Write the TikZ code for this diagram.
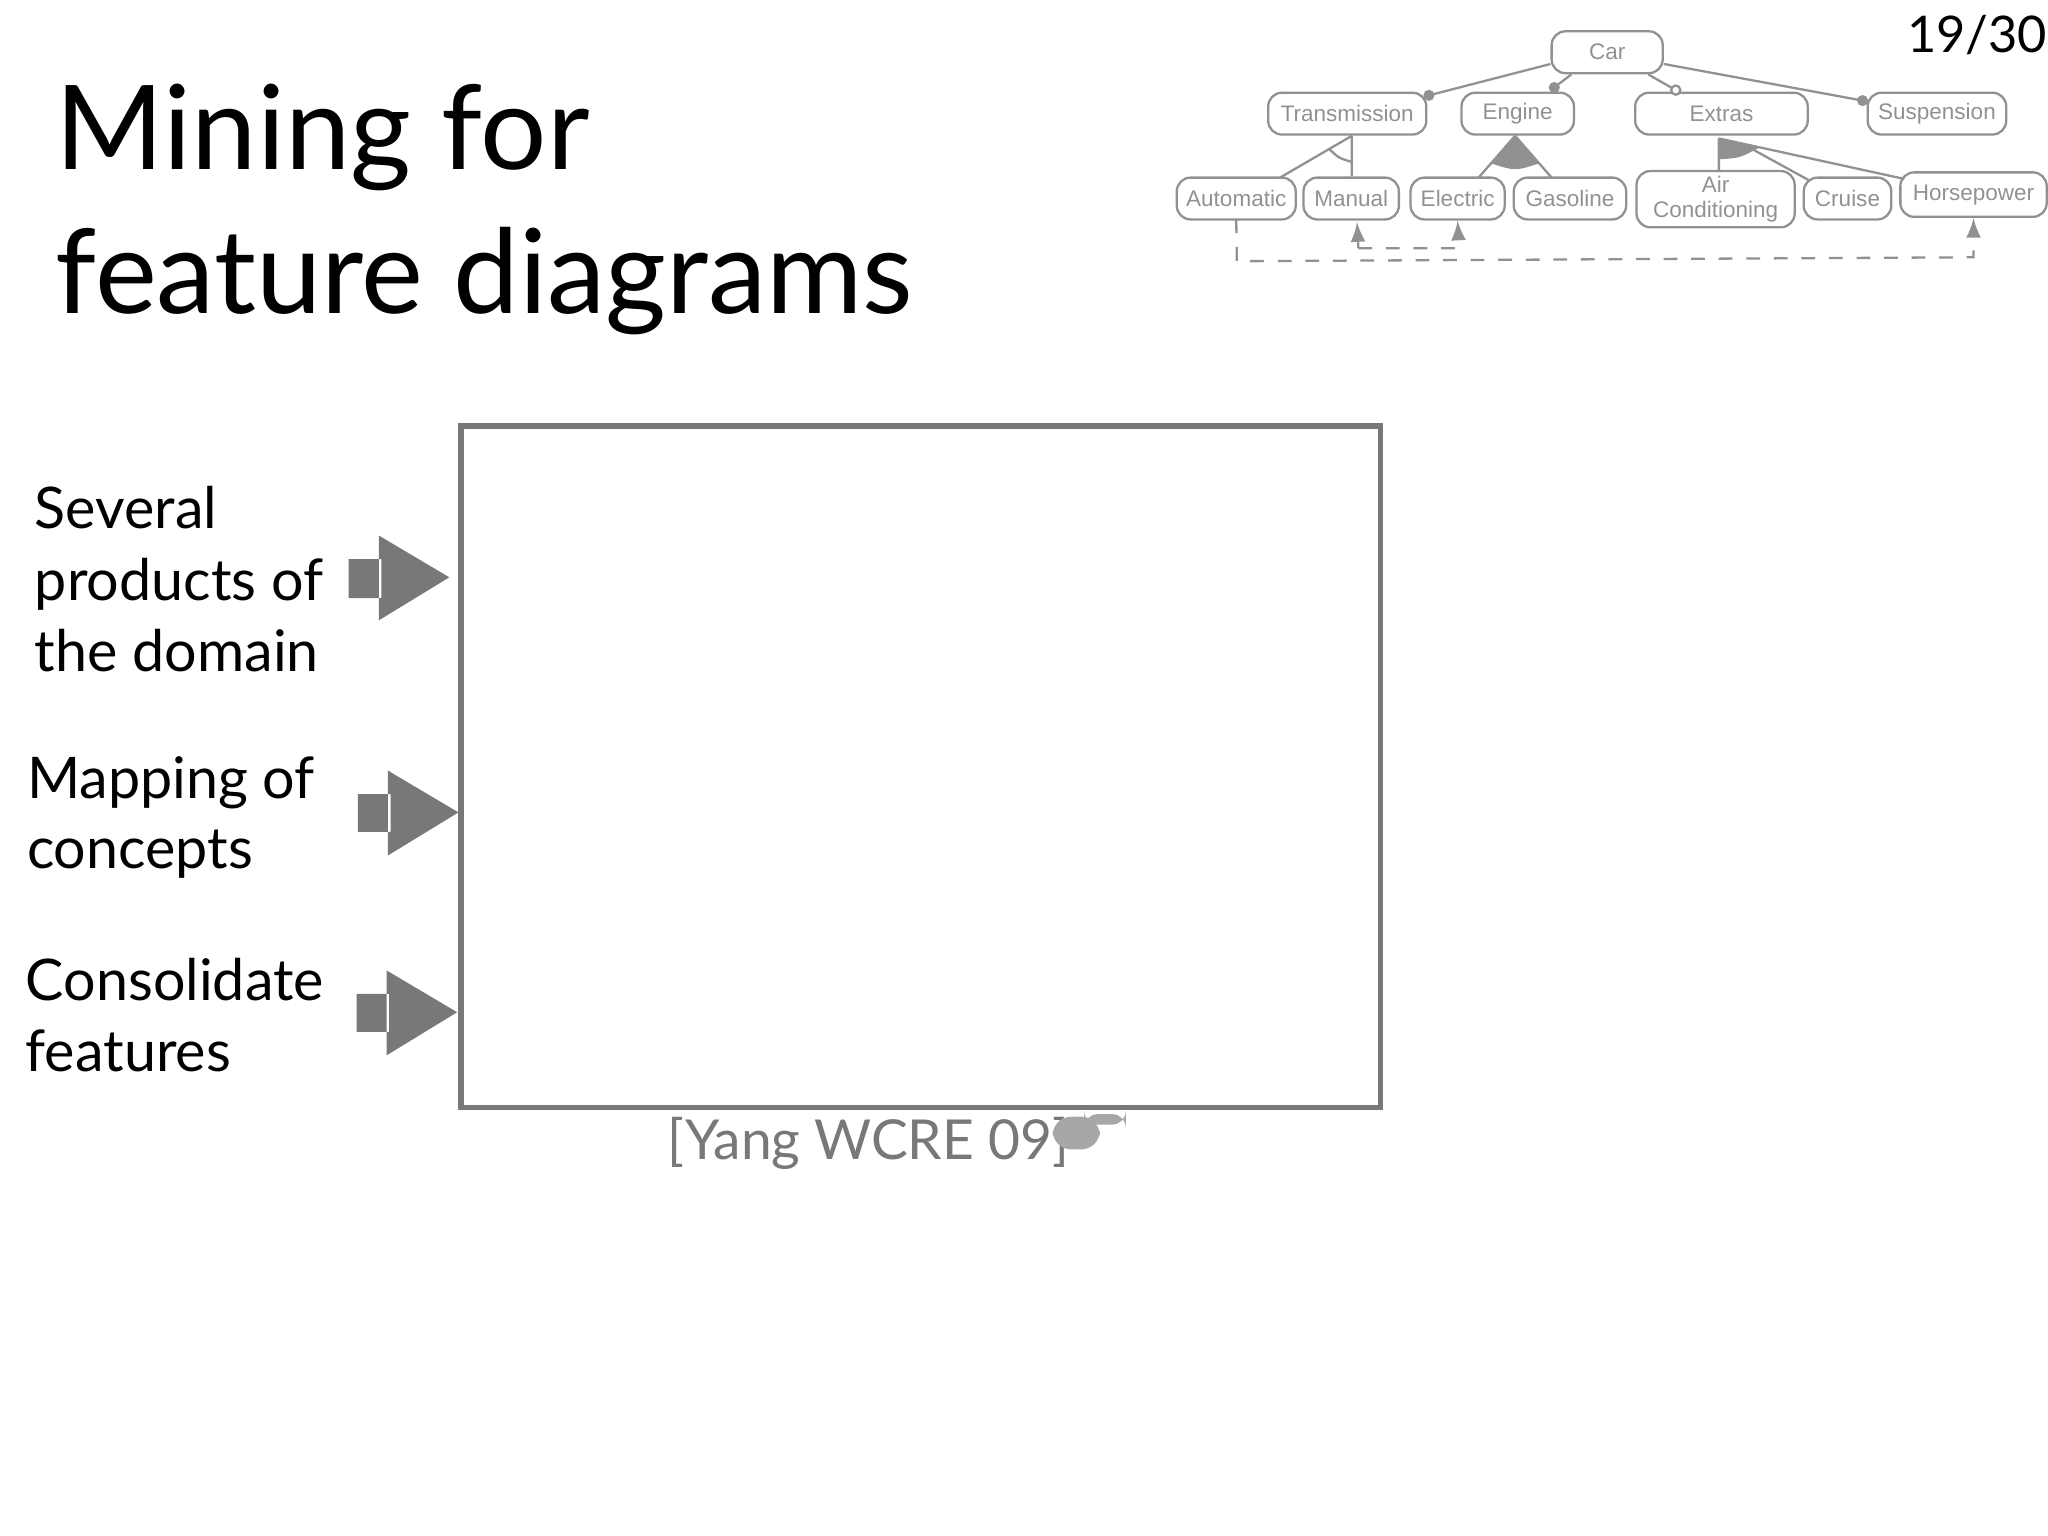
\documentclass[tikz,border=0pt]{standalone}
\usepackage{fontspec}
\setmainfont{Lato}
\newfontfamily\fdfont{Liberation Sans}
\definecolor{fg}{RGB}{120,120,120}
\definecolor{fd}{RGB}{145,145,145}
\begin{document}
\begin{tikzpicture}[x=0.01cm,y=-0.01cm,
 feat/.style={draw=fd,rounded corners=3pt,line width=0.5pt,text=fd,font=\fdfont\fontsize{4.9}{5.6}\selectfont,inner sep=0pt,align=center},
 fl/.style={draw=fd,line width=0.5pt},
 dot/.style={fill=fd,draw=fd,line width=0.4pt},
 body/.style={anchor=base west,font=\fontsize{12.5}{15}\selectfont,inner sep=0pt},
 ttl/.style={anchor=base west,font=\fontsize{25.5}{30}\selectfont,inner sep=0pt},
 blk/.style={fill=fg,draw=none}]
\useasboundingbox (0,0) rectangle (1568,1176);
% title
\node[ttl] (t1) at (42,130) {Mining for};
\node[ttl] (t2) at (42,240) {feature diagrams};
\node[anchor=base east,inner sep=0pt,font=\fontsize{11}{13}\selectfont] (pg) at (1568,40) {19/30};
% feature diagram
\node[feat,minimum width=0.85cm,minimum height=0.32cm] (car) at (1230.5,40) {Car};
\node[feat,minimum width=1.21cm,minimum height=0.32cm] (tr) at (1031.5,87) {Transmission};
\node[feat,minimum width=0.86cm,minimum height=0.32cm] (en) at (1162,87) {Engine};
\node[feat,minimum width=1.32cm,minimum height=0.32cm] (ex) at (1318,87) {Extras};
\node[feat,minimum width=1.06cm,minimum height=0.32cm] (su) at (1483,87) {Suspension};
\node[feat,minimum width=0.91cm,minimum height=0.32cm] (au) at (946.5,152) {Automatic};
\node[feat,minimum width=0.73cm,minimum height=0.32cm] (ma) at (1034.5,152) {Manual};
\node[feat,minimum width=0.72cm,minimum height=0.32cm] (el) at (1116,152) {Electric};
\node[feat,minimum width=0.86cm,minimum height=0.32cm] (ga) at (1202,152) {Gasoline};
\node[feat,minimum width=1.21cm,minimum height=0.43cm] (ac) at (1313.5,152.5) {Air\\Conditioning};
\node[feat,minimum width=0.67cm,minimum height=0.32cm] (cr) at (1414.5,152) {Cruise};
\node[feat,minimum width=1.12cm,minimum height=0.34cm] (hp) at (1511,149) {Horsepower};
% mandatory / optional links
\coordinate (d1) at (1094,73); \coordinate (d2) at (1190,67);
\coordinate (d3) at (1283,69); \coordinate (d4) at (1426,77);
\draw[fl] (car.west |- 0,49) -- (d1);
\draw[fl] (1203,57) -- (d2);
\draw[fl] (1262,57) -- (d3);
\draw[fl] (car.east |- 0,49) -- (d4);
\fill[dot] (d1) circle (3.5); \fill[dot] (d2) circle (3.5); \fill[dot] (d4) circle (3.5);
\draw[fl,fill=white] (d3) circle (3.5);
% groups
\coordinate (ta) at (1035,104);
\draw[fl] (ta) -- (980,136) (ta) -- (ma.north -| ta);
\draw[fl] (1017.7,114.1) .. controls (1025,121) .. (1035,124);
\coordinate (ea) at (1160,104);
\fill[fd] (ea) -- (1141.6,125.1) .. controls (1160,131) .. (1178.4,125.1) -- cycle;
\draw[fl] (ea) -- (1132,136) (ea) -- (1188,136);
\coordinate (xa) at (1316,106);
\fill[fd] (xa) -- (1316,122) .. controls (1332,121) .. (1347,113) -- cycle;
\draw[fl] (xa) -- (ac.north -| xa) (xa) -- (1458,137) (1343,115) -- (1385,138);
% requires (dashed)
\coordinate (mb) at (1039,170);
\draw[fl,dashed,-latex] (au.south |- 0,168) -- (947,200) -- (1511,197) -- (hp.south);
\draw[fl,dashed,-latex] (1040,190) -- (1117,190) -- (el.south);
\draw[fl,-latex] (1040,190) -- (mb);
% main frame
\draw[fg,line width=1.2pt] (353,326) rectangle (1057,848);
\node[anchor=base,inner sep=0pt,text=fg,font=\fontsize{12}{14}\selectfont] (ref) at (665,888) {[Yang WCRE 09]};
% hand icon
\fill[fd!80,rounded corners=3pt] (830,853) rectangle (862,861);
\fill[fd!80,rounded corners=4pt] (806,855) rectangle (842,880);
% left texts
\node[body] (s1) at (26,405) {Several};
\node[body] (s2) at (26,460) {products of};
\node[body] (s3) at (26,514) {the domain};
\node[body] (m1) at (20,611) {Mapping of};
\node[body] (m2) at (20,665) {concepts};
\node[body] (c1) at (19,766) {Consolidate};
\node[body] (c2) at (19,820) {features};
% block arrows
\fill[blk] (267,428) rectangle (292,458) (290,410) -- (344,442) -- (290,475) -- cycle;
\fill[blk] (274,608) rectangle (299,637) (297,590) -- (351,622) -- (297,655) -- cycle;
\fill[blk] (273,761) rectangle (298,790) (296,743) -- (350,775) -- (296,808) -- cycle;
\end{tikzpicture}
\end{document}
